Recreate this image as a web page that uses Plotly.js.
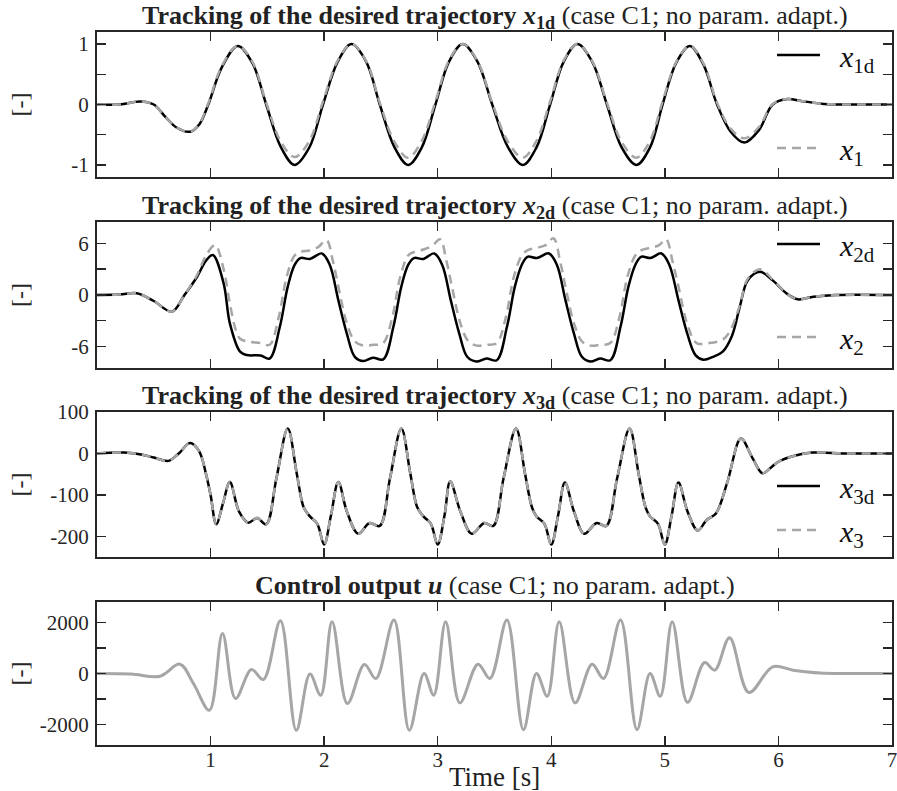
<!DOCTYPE html>
<html>
<head>
<meta charset="utf-8">
<script src="https://cdn.plot.ly/plotly-3.0.1.min.js"></script>
<style>html,body{margin:0;padding:0;background:#fff;}#chart{width:897px;height:791px;}</style>
</head>
<body>
<div id="chart"></div>
<script>
// ---------- Panel 1: x1d / x1 ----------
var t1  = [0, 0.2, 0.38, 0.5, 0.6, 0.7, 0.82, 0.9, 0.98, 1.1, 1.24, 1.37, 1.49, 1.62, 1.74, 1.87, 1.99, 2.12, 2.24, 2.37, 2.49, 2.62, 2.74, 2.86, 2.98, 3.1, 3.22, 3.35, 3.48, 3.62, 3.75, 3.87, 3.99, 4.11, 4.23, 4.36, 4.49, 4.62, 4.75, 4.87, 4.98, 5.1, 5.22, 5.34, 5.46, 5.58, 5.7, 5.83, 5.95, 6.08, 6.2, 6.4, 6.7, 7];
var x1d = [0, 0, 0.05, 0.0, -0.2, -0.38, -0.45, -0.33, 0.0, 0.62, 0.97, 0.68, 0.0, -0.71, -1.0, -0.71, 0.0, 0.71, 1.0, 0.71, 0.0, -0.71, -1.0, -0.71, 0.0, 0.71, 1.0, 0.71, 0.0, -0.71, -1.0, -0.71, 0.0, 0.71, 1.0, 0.71, 0.0, -0.71, -1.0, -0.71, 0.0, 0.69, 0.97, 0.66, 0.0, -0.45, -0.63, -0.42, 0.0, 0.09, 0.06, 0.01, 0.0, 0];
var x1  = [0, 0, 0.05, 0.0, -0.2, -0.38, -0.45, -0.32, 0.02, 0.64, 0.97, 0.7, 0.03, -0.62, -0.87, -0.6, 0.05, 0.73, 1.0, 0.72, 0.03, -0.62, -0.88, -0.6, 0.05, 0.73, 1.0, 0.72, 0.03, -0.62, -0.88, -0.6, 0.05, 0.73, 1.0, 0.72, 0.03, -0.62, -0.88, -0.6, 0.05, 0.7, 0.97, 0.68, 0.03, -0.4, -0.56, -0.37, 0.01, 0.09, 0.06, 0.01, 0.0, 0];

// ---------- Panel 2: x2d / x2 ----------
var t2d = [0, 0.2, 0.35, 0.5, 0.66, 0.77, 0.88, 0.96, 1.02, 1.115, 1.17, 1.26, 1.32, 1.44, 1.52, 1.61, 1.68, 1.74, 1.79, 1.875, 1.98, 2.05, 2.125, 2.2, 2.27, 2.345, 2.43, 2.52, 2.61, 2.68, 2.74, 2.79, 2.875, 2.97, 3.04, 3.115, 3.19, 3.26, 3.34, 3.43, 3.52, 3.61, 3.68, 3.74, 3.79, 3.875, 3.98, 4.05, 4.125, 4.2, 4.27, 4.345, 4.43, 4.52, 4.61, 4.68, 4.74, 4.79, 4.875, 4.97, 5.04, 5.12, 5.2, 5.27, 5.34, 5.425, 5.51, 5.59, 5.66, 5.73, 5.84, 5.95, 6.07, 6.17, 6.31, 6.5, 7];
var x2d = [0, 0.05, 0.2, -0.7, -1.94, 0, 2.1, 4.0, 4.65, 1.36, -3.3, -6.6, -7.0, -7.05, -7.4, -3.7, 1.0, 3.5, 4.3, 4.2, 4.84, 3.5, -0.6, -4.5, -7.2, -7.7, -7.3, -7.5, -3.7, 1.0, 3.5, 4.3, 4.2, 4.84, 3.5, -0.6, -4.5, -7.2, -7.75, -7.4, -7.6, -3.7, 1.0, 3.5, 4.45, 4.3, 4.84, 3.5, -0.6, -4.5, -7.2, -7.75, -7.4, -7.6, -3.7, 1.0, 3.5, 4.45, 4.3, 4.84, 3.5, -0.6, -4.6, -7.0, -7.55, -7.2, -6.6, -4.8, -1.4, 1.7, 2.7, 1.7, 0.2, -0.5, -0.2, 0, 0];
var t2  = [0, 0.2, 0.35, 0.5, 0.66, 0.77, 0.88, 0.96, 1.04, 1.115, 1.17, 1.22, 1.26, 1.32, 1.44, 1.52, 1.6, 1.67, 1.74, 1.79, 1.875, 1.95, 2.02, 2.08, 2.125, 2.2, 2.27, 2.345, 2.43, 2.52, 2.6, 2.67, 2.74, 2.79, 2.875, 2.95, 3.02, 3.08, 3.125, 3.2, 3.27, 3.345, 3.43, 3.52, 3.6, 3.67, 3.74, 3.79, 3.875, 3.95, 4.02, 4.08, 4.125, 4.2, 4.27, 4.345, 4.43, 4.52, 4.6, 4.67, 4.74, 4.79, 4.875, 4.95, 5.01, 5.07, 5.12, 5.2, 5.28, 5.39, 5.51, 5.57, 5.66, 5.73, 5.84, 5.95, 6.07, 6.17, 6.31, 6.5, 7];
var x2  = [0, 0.05, 0.2, -0.7, -1.94, 0, 2.3, 4.6, 5.8, 3.0, -1.0, -4.0, -5.1, -5.4, -5.6, -5.8, -2.6, 2.1, 4.6, 5.0, 5.2, 5.6, 6.4, 3.8, 1.0, -3.3, -5.4, -5.9, -5.8, -5.6, -2.6, 2.1, 4.6, 5.0, 5.3, 5.7, 6.5, 3.8, 1.0, -3.3, -5.4, -5.9, -5.8, -5.6, -2.6, 2.1, 4.6, 5.2, 5.5, 5.8, 6.6, 3.8, 1.0, -3.3, -5.4, -5.9, -5.8, -5.6, -2.6, 2.1, 4.6, 5.2, 5.5, 5.8, 6.5, 3.8, 1.0, -3.5, -5.6, -5.6, -5.2, -4.3, -1.2, 1.9, 3.0, 1.8, 0.2, -0.5, -0.2, 0, 0];

// ---------- Panel 3: x3d / x3 ----------
var t3  = [0, 0.24, 0.4, 0.5, 0.63, 0.72, 0.82, 0.9, 0.96, 1.0, 1.05, 1.11, 1.17, 1.25, 1.33, 1.41, 1.49, 1.58, 1.68, 1.76, 1.82, 1.875, 1.94, 2.0, 2.06, 2.125, 2.2, 2.3, 2.4, 2.49, 2.58, 2.68, 2.76, 2.82, 2.875, 2.94, 3.0, 3.06, 3.11, 3.2, 3.3, 3.41, 3.49, 3.58, 3.69, 3.77, 3.83, 3.87, 3.94, 4.0, 4.06, 4.12, 4.2, 4.29, 4.4, 4.485, 4.58, 4.69, 4.77, 4.83, 4.87, 4.94, 5.0, 5.06, 5.12, 5.2, 5.29, 5.37, 5.45, 5.55, 5.67, 5.77, 5.86, 5.93, 6.0, 6.15, 6.3, 6.6, 7];
var x3d = [0, 2, -3, -10, -18, 0, 25, 5, -50, -100, -171, -120, -69, -140, -167, -156, -171, -60, 60, -50, -130, -152, -170, -220, -150, -69, -140, -194, -168, -175, -60, 60, -50, -130, -152, -170, -220, -150, -68, -140, -194, -168, -175, -60, 60, -50, -130, -152, -170, -220, -150, -70, -140, -194, -168, -175, -60, 60, -50, -130, -152, -170, -220, -150, -70, -140, -186, -160, -145, -70, 36, -10, -48, -35, -20, -5, 2, 0, 0];
var x3  = [0, 2, -3, -10, -18, 0, 25, 5, -50, -100, -171, -120, -69, -140, -167, -156, -171, -60, 60, -50, -130, -152, -170, -220, -150, -69, -140, -194, -168, -175, -60, 60, -50, -130, -152, -170, -220, -150, -68, -140, -194, -168, -175, -60, 60, -50, -130, -152, -170, -220, -150, -70, -140, -194, -168, -175, -60, 60, -50, -130, -152, -170, -220, -150, -70, -140, -186, -160, -145, -70, 36, -10, -48, -35, -20, -5, 2, 0, 0];

// ---------- Panel 4: u ----------
var t4 = [0, 0.3, 0.555, 0.73, 0.85, 0.99, 1.105, 1.22, 1.36, 1.465, 1.615, 1.755, 1.875, 1.97, 2.07, 2.205, 2.355, 2.455, 2.615, 2.75, 2.88, 2.965, 3.07, 3.195, 3.355, 3.46, 3.61, 3.755, 3.87, 3.965, 4.07, 4.21, 4.36, 4.46, 4.61, 4.755, 4.87, 4.96, 5.065, 5.2, 5.35, 5.44, 5.57, 5.74, 5.95, 6.13, 6.37, 6.6, 7];
var u  = [0, -20, -105, 365, -400, -1440, 1570, -980, 157, -235, 2063, -2224, -20, -850, 2024, -1176, 353, -200, 2090, -2224, 0, -850, 2024, -1150, 365, -195, 2090, -2200, 0, -890, 2024, -1150, 365, -195, 2090, -2200, 0, -890, 2024, -1130, 430, 130, 1400, -745, 260, 130, 20, 0, 0];

// ---------- Labels ----------
var titles = [
  '<b>Tracking of the desired trajectory <i>x</i><sub>1d</sub></b> (case C1; no param. adapt.)',
  '<b>Tracking of the desired trajectory <i>x</i><sub>2d</sub></b> (case C1; no param. adapt.)',
  '<b>Tracking of the desired trajectory <i>x</i><sub>3d</sub></b> (case C1; no param. adapt.)',
  '<b>Control output <i>u</i></b> (case C1; no param. adapt.)'
];
var names = ['\u2002<i>x</i><sub>1d</sub>', '\u2002<i>x</i><sub>1</sub>', '\u2002<i>x</i><sub>2d</sub>', '\u2002<i>x</i><sub>2</sub>', '\u2002<i>x</i><sub>3d</sub>', '\u2002<i>x</i><sub>3</sub>', '<i>u</i>'];
var xTicks = [1, 2, 3, 4, 5, 6, 7];
var xTickText = ['1', '2', '3', '4', '5', '6', '7'];
var xTicksInner = [1, 2, 3, 4, 5, 6];
var y1Ticks = [-1, -0.5, 0, 0.5, 1], y1Text = ['-1', '', '0', '', '1'];
var y2Ticks = [-6, -3, 0, 3, 6], y2Text = ['-6', '', '0', '', '6'];
var y3Ticks = [-200, -100, 0, 100], y3Text = ['-200', '-100', '0', '100'];
var y4Ticks = [-2000, -1000, 0, 1000, 2000], y4Text = ['-2000', '', '0', '', '2000'];

var FONT = 'Liberation Serif';
var BLACK = '#000000', GREY = '#a6a6a6';

function solid(x, y, name, xa, ya, lg, grp) {
  return {x: x, y: y, name: name, xaxis: xa, yaxis: ya, type: 'scatter', mode: 'lines',
    line: {color: BLACK, width: 2.5, shape: 'spline', smoothing: 1}, legend: lg, legendgroup: grp};
}
function dashed(x, y, name, xa, ya, lg, grp) {
  return {x: x, y: y, name: name, xaxis: xa, yaxis: ya, type: 'scatter', mode: 'lines',
    line: {color: GREY, width: 2.5, dash: '9px,6px', shape: 'spline', smoothing: 1}, legend: lg, legendgroup: grp};
}

var data = [
  solid(t1, x1d, names[0], 'x', 'y', 'legend', 'a'),
  dashed(t1, x1, names[1], 'x', 'y', 'legend', 'b'),
  solid(t2d, x2d, names[2], 'x2', 'y2', 'legend2', 'c'),
  dashed(t2, x2, names[3], 'x2', 'y2', 'legend2', 'd'),
  solid(t3, x3d, names[4], 'x3', 'y3', 'legend3', 'e'),
  dashed(t3, x3, names[5], 'x3', 'y3', 'legend3', 'f'),
  {x: t4, y: u, name: names[6], xaxis: 'x4', yaxis: 'y4', type: 'scatter', mode: 'lines',
   line: {color: GREY, width: 3, shape: 'spline', smoothing: 1}, showlegend: false}
];

function axisCommon() {
  return {
    showline: true, linecolor: '#262626', linewidth: 2, mirror: 'ticks',
    ticks: 'inside', ticklen: 9, tickwidth: 1.5, tickcolor: '#262626',
    showgrid: false, zeroline: false, fixedrange: true, ticklabeloverflow: 'allow',
    tickfont: {family: FONT, size: 21, color: '#262626'}
  };
}
function xa(anchor, show) {
  var a = Object.assign(axisCommon(), {anchor: anchor, domain: [0, 1], range: [0, 7.0005],
    tickmode: 'array', showticklabels: show, ticklabelstandoff: -5});
  if (show) { a.tickvals = xTicks; a.ticktext = xTickText; } else { a.tickvals = xTicksInner; }
  return a;
}
function ya(anchor, dom, rng, tv, tt) {
  return Object.assign(axisCommon(), {anchor: anchor, domain: dom, range: rng,
    tickmode: 'array', tickvals: tv, ticktext: tt, ticklabelstandoff: 2});
}

var doms = [[0.7966, 1], [0.5288, 0.7335], [0.2637, 0.4670], [0, 0.2006]];
function py(px) { return 1 - (px - 32) / 713; }

var annotations = [];
var titleY = [17.5, 207, 397, 585];
for (var i = 0; i < 4; i++) {
  annotations.push({text: titles[i], xref: 'paper', yref: 'paper', x: 0.5, y: py(titleY[i]),
    xanchor: 'center', yanchor: 'middle', showarrow: false, font: {family: FONT, size: 26, color: '#222'}});
  annotations.push({text: '[-]', xref: 'paper', yref: 'paper', x: (20 - 97) / 795, y: (doms[i][0] + doms[i][1]) / 2,
    xanchor: 'center', yanchor: 'middle', textangle: -90, showarrow: false, font: {family: FONT, size: 24, color: '#262626'}});
}
annotations.push({text: 'Time [s]', xref: 'paper', yref: 'paper', x: 0.5, y: py(777), xanchor: 'center', yanchor: 'middle',
  showarrow: false, font: {family: FONT, size: 27, color: '#222'}});

function legendAt(ypx, gap) {
  return {x: (772 - 97) / 795, xanchor: 'left', y: py(ypx), yanchor: 'top', bgcolor: 'rgba(0,0,0,0)', borderwidth: 0,
    traceorder: 'grouped', tracegroupgap: gap, itemwidth: 43,
    font: {family: FONT, size: 30, color: '#111'}};
}

var layout = {
  width: 897, height: 791,
  margin: {l: 97, r: 5, t: 32, b: 46},
  paper_bgcolor: '#fff', plot_bgcolor: '#fff',
  showlegend: true,
  xaxis: xa('y', false), xaxis2: xa('y2', false), xaxis3: xa('y3', false), xaxis4: xa('y4', true),
  yaxis: ya('x', doms[0], [-1.2, 1.2], y1Ticks, y1Text),
  yaxis2: ya('x2', doms[1], [-8.5, 8.5], y2Ticks, y2Text),
  yaxis3: ya('x3', doms[2], [-250, 100], y3Ticks, y3Text),
  yaxis4: ya('x4', doms[3], [-2800, 2800], y4Ticks, y4Text),
  legend: legendAt(29, 51),
  legend2: legendAt(218, 51),
  legend3: legendAt(460, 2),
  annotations: annotations
};
layout.xaxis2.matches = 'x'; layout.xaxis3.matches = 'x'; layout.xaxis4.matches = 'x';

Plotly.newPlot('chart', data, layout, {displayModeBar: false, staticPlot: true});
</script>
</body>
</html>
